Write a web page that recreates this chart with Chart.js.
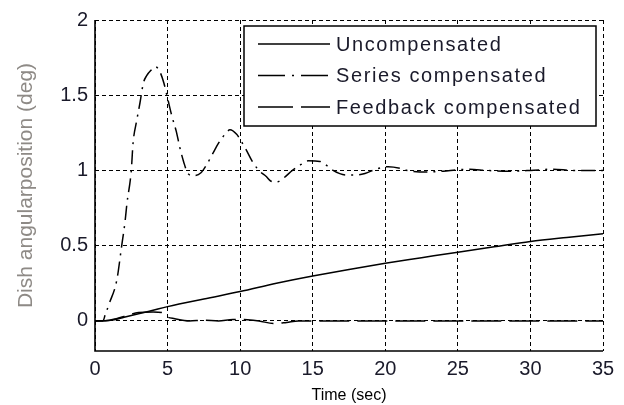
<!DOCTYPE html>
<html>
<head>
<meta charset="utf-8">
<script src="https://cdn.jsdelivr.net/npm/chart.js@4/dist/chart.umd.min.js"></script>
<style>
  html, body { margin: 0; padding: 0; background: #fff; }
  #wrap { width: 624px; height: 405px; position: relative; }
</style>
</head>
<body>
<div id="wrap"><canvas id="c" width="624" height="405"></canvas></div>
<script>
// ---- data ----
const X_TICKS = [0, 5, 10, 15, 20, 25, 30, 35];
const Y_TICKS = [0, 0.5, 1, 1.5, 2];
const X_TICK_LABELS = ['0', '5', '10', '15', '20', '25', '30', '35'];
const Y_TICK_LABELS = ['0', '0.5', '1', '1.5', '2'];
const SERIES_LABELS = ['Uncompensated', 'Series compensated', 'Feedback compensated'];

const UNCOMP_T = [0, 0.5, 1.2, 2, 3, 4, 5, 7.5, 10, 12.5, 15, 17.5, 20, 22.5, 25, 27.5, 30, 32.5, 35];
const UNCOMP_Y = [0, 0.001, 0.006, 0.024, 0.047, 0.071, 0.095, 0.146, 0.195, 0.25, 0.298, 0.342, 0.383, 0.42, 0.457, 0.493, 0.528, 0.555, 0.58];

const SERIES_T = [0, 0.55, 0.7, 1.0, 1.5, 1.84, 2.07, 2.2, 2.5, 2.62, 2.87, 3.1, 3.33, 3.56, 3.9, 4.15, 4.45, 4.75, 5.0, 5.3, 5.6, 5.85, 6.1, 6.4, 6.8, 7.3, 7.7, 8.1, 8.5, 8.95, 9.3, 9.76, 10.1, 10.4, 10.9, 11.4, 11.8, 12.1, 12.5, 13.0, 13.6, 14.2, 14.7, 15.5, 16.0, 16.4, 17.3, 18.0, 18.6, 19.4, 20.2, 21.0, 21.5, 22.9, 24.0, 25.0, 25.8, 27.0, 28.5, 30.0, 31.5, 33.0, 35.0];
const SERIES_Y = [0, 0, 0.04, 0.12, 0.27, 0.5, 0.66, 0.78, 1.0, 1.18, 1.33, 1.45, 1.58, 1.63, 1.67, 1.69, 1.66, 1.58, 1.48, 1.36, 1.26, 1.15, 1.06, 0.98, 0.965, 0.985, 1.04, 1.11, 1.18, 1.24, 1.27, 1.24, 1.19, 1.14, 1.05, 0.99, 0.96, 0.93, 0.923, 0.95, 1.0, 1.04, 1.064, 1.06, 1.03, 1.0, 0.97, 0.97, 0.98, 1.01, 1.025, 1.015, 1.0, 0.99, 0.995, 1.005, 1.008, 1.0, 0.995, 1.0, 1.008, 1.0, 1.0];

const FB_T = [0, 1, 2, 3, 4, 4.6, 4.9, 5.5, 6.5, 7.5, 8.5, 9.5, 10.5, 11.3, 12.3, 13.2, 14, 15, 20, 25, 30, 35];
const FB_Y = [0, 0.005, 0.03, 0.056, 0.06, 0.056, 0.03, 0.015, 0.0, 0.005, 0.0, 0.01, 0.008, 0.0, -0.018, -0.01, 0, 0, 0, 0, 0, 0];

// ---- chart ----
const FONT = '"Liberation Sans", Arial, sans-serif';
const zip = (xs, ys) => xs.map((x, i) => ({ x: x, y: ys[i] }));

const LEGEND_DASH = [[], [27, 7, 2, 7], [35, 8]];

// solid left and bottom axis lines (grid lines are dotted)
const solidAxes = {
  id: 'solidAxes',
  beforeDatasetsDraw(chart) {
    const ctx = chart.ctx, a = chart.chartArea;
    ctx.save();
    ctx.setLineDash([]);
    ctx.strokeStyle = '#000';
    ctx.lineWidth = 1.6;
    ctx.beginPath();
    ctx.moveTo(a.left, a.top);
    ctx.lineTo(a.left, a.bottom);
    ctx.lineTo(a.right, a.bottom);
    ctx.stroke();
    ctx.restore();
  }
};

const insideLegend = {
  id: 'insideLegend',
  afterDraw(chart) {
    const ctx = chart.ctx;
    const area = chart.chartArea;
    const w = 352, h = 100;
    const x0 = area.right - 7 - w;
    const y0 = area.top + 6;
    ctx.save();
    ctx.setLineDash([]);
    ctx.fillStyle = '#fff';
    ctx.fillRect(x0, y0, w, h);
    ctx.strokeStyle = '#000';
    ctx.lineWidth = 1.5;
    ctx.strokeRect(x0, y0, w, h);
    ctx.font = '20px ' + FONT;
    if ('letterSpacing' in ctx) ctx.letterSpacing = '1.6px';
    ctx.textBaseline = 'middle';
    ctx.fillStyle = '#1a1a2a';
    chart.data.datasets.forEach((ds, i) => {
      const cy = y0 + 18 + i * 31.5;
      ctx.beginPath();
      ctx.setLineDash(LEGEND_DASH[i]);
      ctx.lineWidth = 1.5;
      ctx.moveTo(x0 + 14, cy);
      ctx.lineTo(x0 + 86, cy);
      ctx.stroke();
      ctx.setLineDash([]);
      ctx.fillText(ds.label, x0 + 92, cy + 1);
    });
    ctx.restore();
  }
};

new Chart(document.getElementById('c'), {
  type: 'line',
  data: {
    datasets: [
      { label: SERIES_LABELS[0], data: zip(UNCOMP_T, UNCOMP_Y), borderColor: '#000', borderWidth: 1.5, pointRadius: 0, fill: false, cubicInterpolationMode: 'monotone' },
      { label: SERIES_LABELS[1], data: zip(SERIES_T, SERIES_Y), borderColor: '#000', borderWidth: 1.5, borderDash: [14, 6, 2, 6], pointRadius: 0, fill: false, cubicInterpolationMode: 'monotone' },
      { label: SERIES_LABELS[2], data: zip(FB_T, FB_Y), borderColor: '#000', borderWidth: 1.5, borderDash: [30, 8], pointRadius: 0, fill: false, cubicInterpolationMode: 'monotone' }
    ]
  },
  options: {
    responsive: false,
    animation: false,
    layout: { padding: { left: 0, right: 21, top: 20, bottom: 0 } },
    plugins: { legend: { display: false }, tooltip: { enabled: false } },
    scales: {
      x: {
        type: 'linear', min: 0, max: 35,
        afterBuildTicks: s => { s.ticks = X_TICKS.map(v => ({ value: v })); },
        afterFit: s => { s.height = 54; },
        ticks: {
          callback: (v) => X_TICK_LABELS[X_TICKS.indexOf(v)],
          font: { family: FONT, size: 20 }, color: '#1a1a2a', padding: 6, maxRotation: 0, autoSkip: false
        },
        grid: { color: '#000', lineWidth: 1, drawTicks: false, tickLength: 0 },
        border: { display: false, dash: [4, 3] },
        title: { display: true, text: 'Time (sec)', font: { family: FONT, size: 16 }, color: '#000', padding: { top: 2, bottom: 0 } }
      },
      y: {
        type: 'linear', min: -0.2, max: 2,
        afterBuildTicks: s => { s.ticks = Y_TICKS.map(v => ({ value: v })); },
        afterFit: s => { s.width = 95; },
        ticks: {
          callback: (v) => Y_TICK_LABELS[Y_TICKS.indexOf(v)],
          font: { family: FONT, size: 20 }, color: '#1a1a2a', padding: 7, autoSkip: false
        },
        grid: { color: '#000', lineWidth: 1, drawTicks: false, tickLength: 0 },
        border: { display: false, dash: [4, 3] },
        title: { display: true, text: 'Dish angularposition (deg)', font: { family: FONT, size: 21 }, color: '#8e8a86', padding: { top: 14, bottom: 0 } }
      }
    }
  },
  plugins: [solidAxes, insideLegend]
});
</script>
</body>
</html>
